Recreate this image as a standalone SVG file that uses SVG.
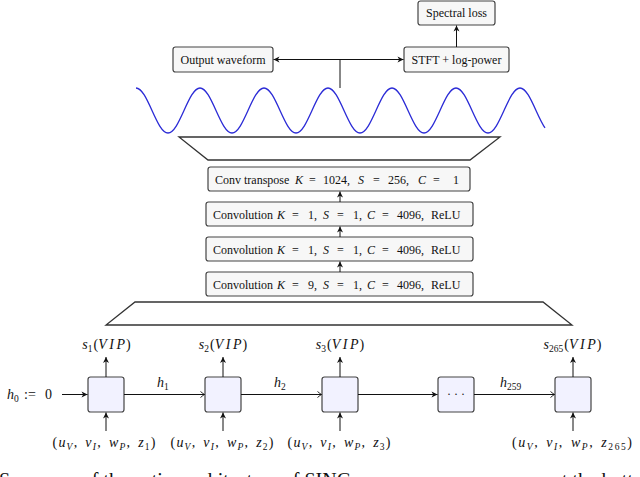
<svg xmlns="http://www.w3.org/2000/svg" width="640" height="477" viewBox="0 0 640 477">
<style>
text{font-family:"Liberation Serif","Times New Roman",serif;font-size:12px;fill:#111}
.i{font-style:italic}
.m{font-size:14px}
.sb{font-size:9.5px}
.vip{font-style:italic;letter-spacing:2.5px}
.cap{font-size:20px}
.tb{fill:#f7f7f7;stroke:#444;stroke-width:1.2}
.rb{fill:#f2f2ff;stroke:#444;stroke-width:1.2}
.trap{fill:#fff;stroke:#333;stroke-width:1.3}
.ln{stroke:#111;stroke-width:1;fill:none}
.wave{stroke:#2b2bd6;stroke-width:1.3;fill:none}
</style>
<defs>
<marker id="st" viewBox="-7 -4 8 8" refX="0" refY="0" markerWidth="8" markerHeight="8" markerUnits="userSpaceOnUse" orient="auto-start-reverse">
<path d="M0,0 L-6,-3 L-4.3,0 L-6,3 Z" fill="#111"/>
</marker>
<marker id="op" viewBox="-7 -4 8 8" refX="0" refY="0" markerWidth="8" markerHeight="8" markerUnits="userSpaceOnUse" orient="auto">
<path d="M-4,-3 Q-1.2,-0.6 0,0 Q-1.2,0.6 -4,3" fill="none" stroke="#111" stroke-width="0.9"/>
</marker>
</defs>

<g id="spectral-loss"><rect class="tb" x="418" y="1" width="77" height="24" rx="2.5"/><text x="456.5" y="17" text-anchor="middle">Spectral loss</text></g>
<g id="output-waveform"><rect class="tb" x="173" y="47" width="100" height="25" rx="2.5"/><text x="223" y="63.5" text-anchor="middle">Output waveform</text></g>
<g id="stft"><rect class="tb" x="404" y="47" width="105" height="25" rx="2.5"/><text x="456.5" y="63.5" text-anchor="middle">STFT + log-power</text></g>

<g id="waveform">
<path class="wave" d="M136,88 c5.79,0 10.78,10.97 16,22.5 c5.22,11.53 10.21,22.5 16,22.5 c5.79,0 10.78,-10.97 16,-22.5 c5.22,-11.53 10.21,-22.5 16,-22.5 c5.79,0 10.78,10.97 16,22.5 c5.22,11.53 10.21,22.5 16,22.5 c5.79,0 10.78,-10.97 16,-22.5 c5.22,-11.53 10.21,-22.5 16,-22.5 c5.79,0 10.78,10.97 16,22.5 c5.22,11.53 10.21,22.5 16,22.5 c5.79,0 10.78,-10.97 16,-22.5 c5.22,-11.53 10.21,-22.5 16,-22.5 c5.79,0 10.78,10.97 16,22.5 c5.22,11.53 10.21,22.5 16,22.5 c5.79,0 10.78,-10.97 16,-22.5 c5.22,-11.53 10.21,-22.5 16,-22.5 c5.79,0 10.78,10.97 16,22.5 c5.22,11.53 10.21,22.5 16,22.5 c5.79,0 10.78,-10.97 16,-22.5 c5.22,-11.53 10.21,-22.5 16,-22.5 c5.79,0 10.78,10.97 16,22.5 c5.22,11.53 10.21,22.5 16,22.5 c5.79,0 10.78,-10.97 16,-22.5 c5.22,-11.53 10.21,-22.5 16,-22.5 c5.79,0 10.78,10.97 16,22.5 C539,117.1 542,123.7 545,127.9"/>
</g>

<g id="upsample-trapezoid"><polygon class="trap" points="179,137 500,137 470,160 208,160"/></g>
<g id="conv-transpose"><rect class="tb" x="208" y="167" width="262" height="24" rx="2.5"/><text y="183.5"><tspan x="215">Conv transpose</tspan><tspan class="i" x="295">K</tspan><tspan x="309">=</tspan><tspan x="323">1024,</tspan><tspan class="i" x="358">S</tspan><tspan x="373">=</tspan><tspan x="388">256,</tspan><tspan class="i" x="418">C</tspan><tspan x="433">=</tspan><tspan x="453">1</tspan></text></g>
<g id="conv1"><rect class="tb" x="206" y="202" width="267" height="24" rx="2.5"/><text y="218.5"><tspan x="213">Convolution</tspan><tspan class="i" x="277">K</tspan><tspan x="292">=</tspan><tspan x="308">1,</tspan><tspan class="i" x="323">S</tspan><tspan x="337">=</tspan><tspan x="353">1,</tspan><tspan class="i" x="367">C</tspan><tspan x="382">=</tspan><tspan x="397">4096,</tspan><tspan x="431">ReLU</tspan></text></g>
<g id="conv2"><rect class="tb" x="206" y="237" width="267" height="24" rx="2.5"/><text y="253.5"><tspan x="213">Convolution</tspan><tspan class="i" x="277">K</tspan><tspan x="292">=</tspan><tspan x="308">1,</tspan><tspan class="i" x="323">S</tspan><tspan x="337">=</tspan><tspan x="353">1,</tspan><tspan class="i" x="367">C</tspan><tspan x="382">=</tspan><tspan x="397">4096,</tspan><tspan x="431">ReLU</tspan></text></g>
<g id="conv3"><rect class="tb" x="206" y="272" width="267" height="24" rx="2.5"/><text y="288.5"><tspan x="213">Convolution</tspan><tspan class="i" x="277">K</tspan><tspan x="292">=</tspan><tspan x="308">9,</tspan><tspan class="i" x="323">S</tspan><tspan x="337">=</tspan><tspan x="353">1,</tspan><tspan class="i" x="367">C</tspan><tspan x="382">=</tspan><tspan x="397">4096,</tspan><tspan x="431">ReLU</tspan></text></g>
<g id="input-trapezoid"><polygon class="trap" points="135,302 543,302 572,325 106,325"/></g>

<g id="h0"><text class="m" y="398.5"><tspan class="i" x="7">h</tspan><tspan class="sb" x="14" dy="3">0</tspan><tspan x="24" dy="-3">:=</tspan><tspan x="45">0</tspan></text></g>

<g id="cell1"><rect class="rb" x="88" y="377" width="36" height="35" rx="2.5"/>
<text class="m" x="106.5" y="349" text-anchor="middle"><tspan class="i">s</tspan><tspan class="sb" dy="3">1</tspan><tspan dy="-3" dx="1">(</tspan><tspan class="vip">VIP</tspan><tspan dx="-1.5">)</tspan></text>
<text class="m" x="104" y="447" text-anchor="middle" textLength="103" lengthAdjust="spacing">(<tspan class="i">u</tspan><tspan class="sb i" dy="3">V</tspan><tspan dy="-3">,</tspan><tspan class="i" dx="7">v</tspan><tspan class="sb i" dy="3">I</tspan><tspan dy="-3">,</tspan><tspan class="i" dx="7">w</tspan><tspan class="sb i" dy="3">P</tspan><tspan dy="-3">,</tspan><tspan class="i" dx="7">z</tspan><tspan class="sb" dy="3">1</tspan><tspan dy="-3">)</tspan></text></g>
<g id="cell2"><rect class="rb" x="205" y="377" width="36" height="35" rx="2.5"/>
<text class="m" x="223" y="349" text-anchor="middle"><tspan class="i">s</tspan><tspan class="sb" dy="3">2</tspan><tspan dy="-3" dx="1">(</tspan><tspan class="vip">VIP</tspan><tspan dx="-1.5">)</tspan></text>
<text class="m" x="222" y="447" text-anchor="middle" textLength="103" lengthAdjust="spacing">(<tspan class="i">u</tspan><tspan class="sb i" dy="3">V</tspan><tspan dy="-3">,</tspan><tspan class="i" dx="7">v</tspan><tspan class="sb i" dy="3">I</tspan><tspan dy="-3">,</tspan><tspan class="i" dx="7">w</tspan><tspan class="sb i" dy="3">P</tspan><tspan dy="-3">,</tspan><tspan class="i" dx="7">z</tspan><tspan class="sb" dy="3">2</tspan><tspan dy="-3">)</tspan></text></g>
<g id="cell3"><rect class="rb" x="322" y="377" width="36" height="35" rx="2.5"/>
<text class="m" x="340" y="349" text-anchor="middle"><tspan class="i">s</tspan><tspan class="sb" dy="3">3</tspan><tspan dy="-3" dx="1">(</tspan><tspan class="vip">VIP</tspan><tspan dx="-1.5">)</tspan></text>
<text class="m" x="339" y="447" text-anchor="middle" textLength="103" lengthAdjust="spacing">(<tspan class="i">u</tspan><tspan class="sb i" dy="3">V</tspan><tspan dy="-3">,</tspan><tspan class="i" dx="7">v</tspan><tspan class="sb i" dy="3">I</tspan><tspan dy="-3">,</tspan><tspan class="i" dx="7">w</tspan><tspan class="sb i" dy="3">P</tspan><tspan dy="-3">,</tspan><tspan class="i" dx="7">z</tspan><tspan class="sb" dy="3">3</tspan><tspan dy="-3">)</tspan></text></g>
<g id="cell-dots"><rect class="rb" x="438" y="377" width="36" height="35" rx="2.5"/><text x="456" y="397.5" text-anchor="middle">· · ·</text></g>
<g id="cell265"><rect class="rb" x="555" y="377" width="36" height="35" rx="2.5"/>
<text class="m" x="572.5" y="349" text-anchor="middle"><tspan class="i">s</tspan><tspan class="sb" dy="3">265</tspan><tspan dy="-3" dx="1">(</tspan><tspan class="vip">VIP</tspan><tspan dx="-1.5">)</tspan></text>
<text class="m" x="572" y="447" text-anchor="middle" textLength="120" lengthAdjust="spacing">(<tspan class="i">u</tspan><tspan class="sb i" dy="3">V</tspan><tspan dy="-3">,</tspan><tspan class="i" dx="7">v</tspan><tspan class="sb i" dy="3">I</tspan><tspan dy="-3">,</tspan><tspan class="i" dx="7">w</tspan><tspan class="sb i" dy="3">P</tspan><tspan dy="-3">,</tspan><tspan class="i" dx="7">z</tspan><tspan class="sb" dy="3">265</tspan><tspan dy="-3">)</tspan></text></g>

<g id="connectors">
<line class="ln" x1="273.5" y1="59.5" x2="403.5" y2="59.5" marker-start="url(#st)" marker-end="url(#st)"/>
<line class="ln" x1="340" y1="59.5" x2="340" y2="88" stroke-width="1.3"/>
<line class="ln" x1="456.5" y1="47" x2="456.5" y2="25.5" marker-end="url(#st)"/>
<line class="ln" x1="340" y1="202" x2="340" y2="191.5" marker-end="url(#st)"/>
<line class="ln" x1="340" y1="237" x2="340" y2="226.5" marker-end="url(#st)"/>
<line class="ln" x1="340" y1="272" x2="340" y2="261.5" marker-end="url(#st)"/>
<line class="ln" x1="62" y1="394.5" x2="87.5" y2="394.5" marker-end="url(#st)"/>
<line class="ln" x1="124" y1="394.5" x2="204.5" y2="394.5" marker-end="url(#op)"/>
<line class="ln" x1="241" y1="394.5" x2="321.5" y2="394.5" marker-end="url(#op)"/>
<line class="ln" x1="358" y1="394.5" x2="437.5" y2="394.5" marker-end="url(#st)"/>
<line class="ln" x1="474" y1="394.5" x2="554.5" y2="394.5" marker-end="url(#op)"/>
<line class="ln" x1="106" y1="377" x2="106" y2="357" marker-end="url(#st)"/>
<line class="ln" x1="223" y1="377" x2="223" y2="357" marker-end="url(#st)"/>
<line class="ln" x1="340" y1="377" x2="340" y2="357" marker-end="url(#st)"/>
<line class="ln" x1="573" y1="377" x2="573" y2="357" marker-end="url(#st)"/>
<line class="ln" x1="106" y1="431" x2="106" y2="412.5" marker-end="url(#st)"/>
<line class="ln" x1="223" y1="431" x2="223" y2="412.5" marker-end="url(#st)"/>
<line class="ln" x1="340" y1="431" x2="340" y2="412.5" marker-end="url(#st)"/>
<line class="ln" x1="573" y1="431" x2="573" y2="412.5" marker-end="url(#st)"/>
<text class="m" x="157" y="387"><tspan class="i">h</tspan><tspan class="sb" dy="3">1</tspan></text>
<text class="m" x="274" y="387"><tspan class="i">h</tspan><tspan class="sb" dy="3">2</tspan></text>
<text class="m" x="500" y="387"><tspan class="i">h</tspan><tspan class="sb" dy="3">259</tspan></text>
</g>

<text class="cap" x="-1" y="487">Summary of the entire architecture of SING</text>
<text class="cap" x="553" y="487">at the bottom</text>
</svg>
